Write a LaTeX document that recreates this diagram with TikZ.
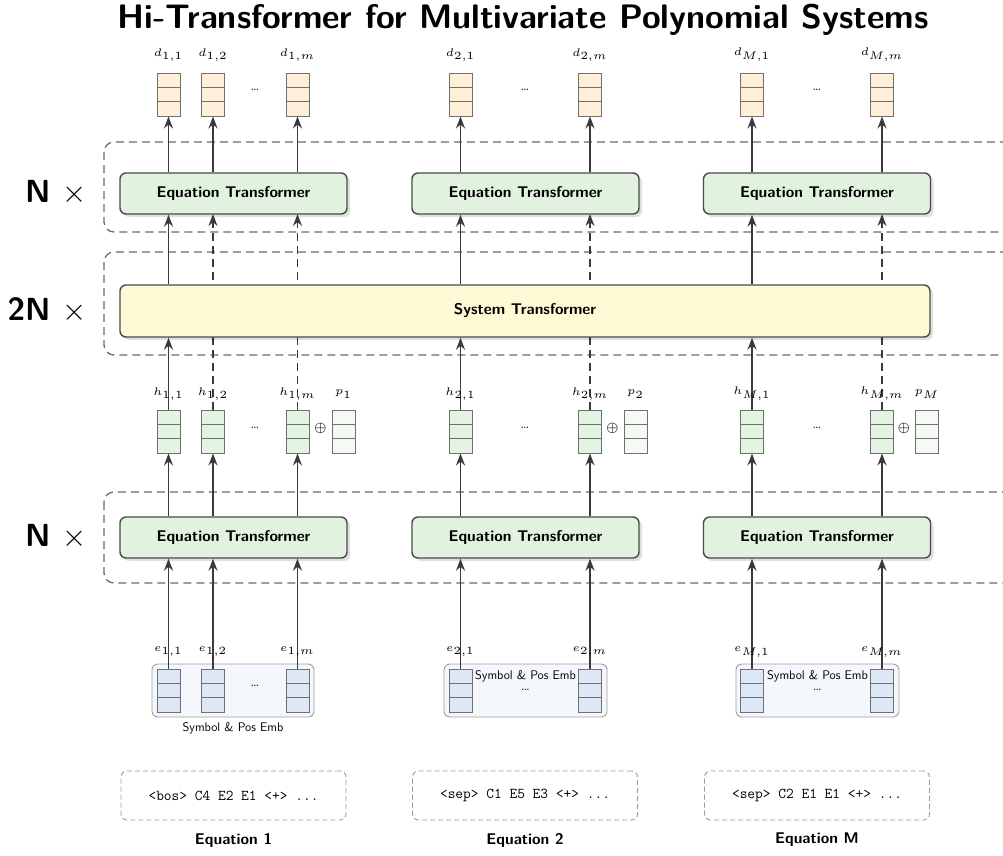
\documentclass[tikz,border=0pt]{standalone}
\usepackage{graphicx}
\usetikzlibrary{arrows.meta,calc,shadows}

\definecolor{etfill}{HTML}{E1F3DE}
\definecolor{sysfill}{HTML}{FFF9D6}
\definecolor{dfill}{HTML}{FFEFD8}
\definecolor{hfill}{HTML}{E3F4E3}
\definecolor{pfill}{HTML}{F5FAF5}
\definecolor{efill}{HTML}{DDE7F6}
\definecolor{embfill}{HTML}{F4F7FC}
\definecolor{edgec}{HTML}{4A4A4A}
\definecolor{arrowc}{HTML}{3A3A3A}
\definecolor{grpc}{HTML}{6A6A6A}
\definecolor{vecc}{HTML}{707070}

% small math labels set at \tiny and enlarged
\newcommand{\lbl}[1]{\scalebox{2.2}{\tiny$#1$}}
\newcommand{\sdots}{\scalebox{2.2}{\tiny\ldots}}
% repetition multiplier sign
\newcommand{\reptimes}{\scalebox{1.25}{$\times$}}

% a three-cell vector: name, x, top y, fill colour
\newcommand{\cellvec}[4]{%
  \node[vecbox, fill=#4] (#1) at (#2,#3+21.5) {};
  \draw[vecc, line width=0.9pt]
    ($(#1.north west)!1/3!(#1.south west)$) -- ($(#1.north east)!1/3!(#1.south east)$)
    ($(#1.north west)!2/3!(#1.south west)$) -- ($(#1.north east)!2/3!(#1.south east)$);
}

\begin{document}
\begin{tikzpicture}[x=1pt,y=-1pt,
  >={Stealth[length=12pt,width=9pt,inset=4pt]},
  tbox/.style={draw=edgec, line width=1.4pt, rounded corners=6pt,
    minimum width=227pt, minimum height=41pt, inner sep=0pt,
    font=\fontsize{15.5}{18}\selectfont\sffamily\bfseries,
    drop shadow={shadow xshift=3pt, shadow yshift=-3pt, fill=black, opacity=0.12}},
  vecbox/.style={draw=vecc, line width=0.9pt, minimum width=23pt,
    minimum height=43pt, inner sep=0pt},
  embbox/.style={draw=black!38, fill=embfill, line width=0.9pt,
    rounded corners=6pt, minimum height=53pt, inner sep=0pt},
  grp/.style={draw=grpc, line width=1.3pt, dash pattern=on 8pt off 5pt,
    rounded corners=10pt},
  arr/.style={draw=arrowc, line width=1.6pt, ->},
  darr/.style={arr, dash pattern=on 8pt off 5pt},
  eqbox/.style={draw=black!40, line width=0.9pt, dash pattern=on 5pt off 3pt,
    rounded corners=6pt, minimum width=225pt, minimum height=49pt,
    font=\fontsize{15}{18}\selectfont\ttfamily},
  eqlab/.style={font=\fontsize{15.5}{18}\selectfont\sffamily\bfseries},
  rep/.style={anchor=east, font=\fontsize{32}{36}\selectfont\sffamily\bfseries},
  emblab/.style={font=\fontsize{12.5}{14}\selectfont\sffamily, inner sep=0pt},
  tlab/.style={inner sep=0pt}
]
\useasboundingbox (0,0) rectangle (1003,855);
\clip (0,0) rectangle (1003,855);

% title
\node[font=\fontsize{34}{40}\selectfont\sffamily\bfseries] (title) at (523,20)
  {Hi-Transformer for Multivariate Polynomial Systems};

% repetition frames
\draw[grp] (104,142) rectangle (1030,232);
\draw[grp] (104,252) rectangle (1030,355);
\draw[grp] (104,492) rectangle (1030,583);
\node[rep] (repA) at (90,193) {N \reptimes};
\node[rep] (repB) at (90,310) {2N \reptimes};
\node[rep] (repC) at (90,537) {N \reptimes};

% embedding containers
\node[embbox, minimum width=162pt] (emb1) at (233,690.5) {};
\node[embbox, minimum width=163pt] (emb2) at (525.5,690.5) {};
\node[embbox, minimum width=163pt] (emb3) at (817.5,690.5) {};
\node[emblab] (emb1lab) at (233,728) {Symbol \& Pos Emb};
\node[emblab] (emb2lab) at (525.5,676) {Symbol \& Pos Emb};
\node[emblab] (emb3lab) at (817.5,676) {Symbol \& Pos Emb};

% vectors: outputs d, hidden states h, position vectors p, embeddings e
\foreach \n/\x in {11/168.5,12/213,1m/297.5,21/460.5,2m/590,M1/752,Mm/882}{
  \cellvec{d\n}{\x}{73}{dfill}
  \cellvec{h\n}{\x}{410}{hfill}
  \cellvec{e\n}{\x}{669}{efill}
}
\cellvec{p1}{343.5}{410}{pfill}
\cellvec{p2}{635.5}{410}{pfill}
\cellvec{pM}{927}{410}{pfill}

% ellipses between vectors
\node[tlab] (dotd1) at (255,90) {\sdots};
\node[tlab] (dotd2) at (525,90) {\sdots};
\node[tlab] (dotd3) at (817,90) {\sdots};
\node[tlab] (doth1) at (255,428) {\sdots};
\node[tlab] (doth2) at (525,428) {\sdots};
\node[tlab] (doth3) at (817,428) {\sdots};
\node[tlab] (dote1) at (255,686) {\sdots};
\node[tlab] (dote2) at (525.5,690) {\sdots};
\node[tlab] (dote3) at (817.5,690) {\sdots};

% adding position vectors
\node[tlab] (plus1) at (320.5,428) {\scalebox{2.5}{\tiny$\oplus$}};
\node[tlab] (plus2) at (612.5,428) {\scalebox{2.5}{\tiny$\oplus$}};
\node[tlab] (plus3) at (904,428) {\scalebox{2.5}{\tiny$\oplus$}};

% dashed paths that bypass the system transformer
\draw[darr] (h12.north) -- (h12.north |- 0,214);
\draw[darr] (h1m.north) -- (h1m.north |- 0,214);
\draw[darr] (h2m.north) -- (h2m.north |- 0,214);
\draw[darr] (hMm.north) -- (hMm.north |- 0,214);

% transformer blocks
\node[tbox, fill=etfill] (et1) at (233.5,193.5) {Equation Transformer};
\node[tbox, fill=etfill] (et2) at (525.5,193.5) {Equation Transformer};
\node[tbox, fill=etfill] (et3) at (817,193.5) {Equation Transformer};
\node[tbox, fill=sysfill, minimum width=810pt, minimum height=52pt] (sys)
  at (525,311) {System Transformer};
\node[tbox, fill=etfill] (eb1) at (233.5,537.5) {Equation Transformer};
\node[tbox, fill=etfill] (eb2) at (525.5,537.5) {Equation Transformer};
\node[tbox, fill=etfill] (eb3) at (817,537.5) {Equation Transformer};

% upper equation transformers to outputs, lower ones to hidden states
\foreach \n/\k in {11/1,12/1,1m/1,21/2,2m/2,M1/3,Mm/3}{
  \draw[arr] (et\k.north -| d\n) -- (d\n.south);
  \draw[arr] (eb\k.north -| h\n) -- (h\n.south);
  \draw[arr] (e\n.north) -- (eb\k.south -| e\n);
}
% first token of each equation goes through the system transformer
\foreach \n/\k in {11/1,21/2,M1/3}{
  \draw[arr] (h\n.north) -- (sys.south -| h\n);
  \draw[arr] (sys.north -| h\n) -- (et\k.south -| h\n);
}

% vector labels
\foreach \n/\x/\i/\j in {11/168.5/1/1,12/213/1/2,1m/297.5/1/m,21/460.5/2/1,
    2m/590/2/m,M1/752/M/1,Mm/882/M/m}{
  \node[tlab] (ld\n) at (\x,55) {\lbl{d_{\i,\j}}};
  \node[tlab] (lh\n) at (\x,394) {\lbl{h_{\i,\j}}};
  \node[tlab] (le\n) at (\x,652) {\lbl{e_{\i,\j}}};
}
\node[tlab] (lp1) at (343.5,394) {\lbl{p_1}};
\node[tlab] (lp2) at (635.5,394) {\lbl{p_2}};
\node[tlab] (lpM) at (927,394) {\lbl{p_M}};

% input token sequences
\node[eqbox] (in1) at (233.5,795.5) {<bos> C4 E2 E1 <+> ...};
\node[eqbox] (in2) at (525,795.5) {<sep> C1 E5 E3 <+> ...};
\node[eqbox] (in3) at (817,795.5) {<sep> C2 E1 E1 <+> ...};
\node[eqlab] (eq1) at (233.5,840) {Equation 1};
\node[eqlab] (eq2) at (525,840) {Equation 2};
\node[eqlab] (eq3) at (817,840) {Equation M};
\end{tikzpicture}
\end{document}
